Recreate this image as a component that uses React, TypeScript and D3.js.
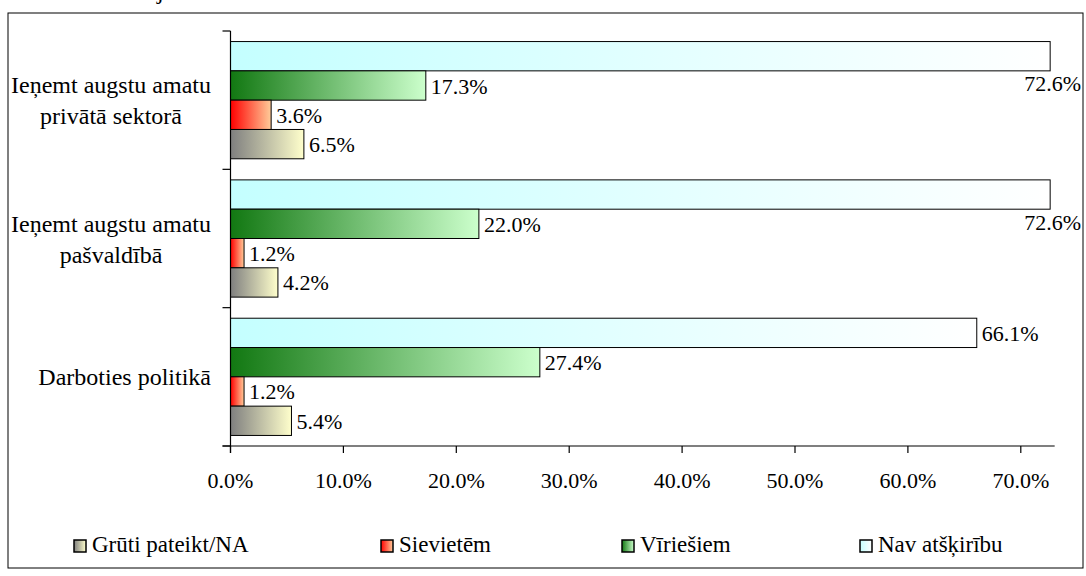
import React from 'react';
import * as d3 from 'd3';

const categories = ["Ieņemt augstu amatu\nprivātā sektorā", "Ieņemt augstu amatu\npašvaldībā", "Darboties politikā"];
const seriesNames = ["Nav atšķirību", "Vīriešiem", "Sievietēm", "Grūti pateikt/NA"];
const navValues = [72.6, 72.6, 66.1];
const virValues = [17.3, 22.0, 27.4];
const sievValues = [3.6, 1.2, 1.2];
const grutiValues = [6.5, 4.2, 5.4];
const xTicks = [0, 10, 20, 30, 40, 50, 60, 70];
const legendOrder = ["Grūti pateikt/NA", "Sievietēm", "Vīriešiem", "Nav atšķirību"];

const seriesValues: Record<string, number[]> = {
  "Nav atšķirību": navValues,
  "Vīriešiem": virValues,
  "Sievietēm": sievValues,
  "Grūti pateikt/NA": grutiValues,
};

const gradients: Record<string, [string, string]> = {
  "Nav atšķirību": ["#c4ffff", "#ffffff"],
  "Vīriešiem": ["#127812", "#ccffcc"],
  "Sievietēm": ["#ff0000", "#ffcc99"],
  "Grūti pateikt/NA": ["#7f7f7f", "#ffffcc"],
};

const FONT = "'Liberation Serif', 'Times New Roman', serif";
const legendSwatchX = [74, 381, 622, 860];

function measure(text: string, size: number): number {
  const c = document.createElement('canvas').getContext('2d');
  if (!c) return text.length * size * 0.45;
  c.font = `${size}px 'Liberation Serif'`;
  return c.measureText(text).width;
}

export default function App() {
  const W = 1086, H = 576;
  const frame = { x: 8, y: 13, w: 1075, h: 555 };
  const x = d3.scaleLinear().domain([0, 73]).range([230.5, 230.5 + 7.3 * 112.9]);
  const y = d3.scaleBand<string>().domain(categories).range([31, 446]).padding(0);
  const inner = d3.scaleBand<string>().domain(seriesNames).range([0, y.bandwidth()]).paddingInner(0).paddingOuter(0.36);
  const axisY = 446;
  const chartRight = frame.x + frame.w;
  const id = (s: string) => 'g' + seriesNames.indexOf(s);
  const numSize = 22;
  const catSize = 24;

  return (
    <svg width={W} height={H} style={{ position: 'absolute', left: 0, top: 0, fontFamily: FONT }}>
      <defs>
        {seriesNames.map((s) => (
          <linearGradient key={s} id={id(s)} x1="0" y1="0" x2="1" y2="0">
            <stop offset="0" stopColor={gradients[s][0]} />
            <stop offset="1" stopColor={gradients[s][1]} />
          </linearGradient>
        ))}
      </defs>
      <rect x={0} y={0} width={W} height={H} fill="#fff" />
      <text x={157} y={-1} fontSize={24} fill="#000">j</text>
      <rect x={frame.x} y={frame.y} width={frame.w} height={frame.h} fill="#fff" stroke="#000" strokeWidth={1} />

      {/* bars */}
      {categories.map((c, ci) =>
        seriesNames.map((s) => {
          const v = seriesValues[s][ci];
          const by = (y(c) ?? 0) + (inner(s) ?? 0);
          const bh = inner.bandwidth();
          const x0 = x(0), x1 = x(v);
          const label = v.toFixed(1) + '%';
          const lw = measure(label, numSize);
          let lx = x1 + 5;
          let ly = by + bh / 2 + 8;
          let anchor: 'start' | 'end' = 'start';
          if (lx + lw > chartRight - 2) {
            lx = chartRight - 2;
            anchor = 'end';
            ly += 27;
          }
          return (
            <g key={c + s}>
              <rect x={x0} y={by} width={x1 - x0} height={bh} fill={`url(#${id(s)})`} stroke="#000" strokeWidth={1} />
              <text x={lx} y={ly} fontSize={numSize} textAnchor={anchor} fill="#000">{label}</text>
            </g>
          );
        })
      )}

      {/* axes */}
      <line x1={x(0)} y1={31} x2={x(0)} y2={axisY + 7} stroke="#000" strokeWidth={1.2} />
      {[...categories.map((c) => y(c) ?? 0), 446].map((t, i) => (
        <line key={'yt' + i} x1={x(0) - 8} y1={t} x2={x(0)} y2={t} stroke="#000" strokeWidth={1.2} />
      ))}
      <line x1={x(0) - 8} y1={axisY} x2={x(73)} y2={axisY} stroke="#000" strokeWidth={1.2} />
      {xTicks.map((t) => (
        <g key={'xt' + t}>
          <line x1={x(t)} y1={axisY} x2={x(t)} y2={axisY + 7} stroke="#000" strokeWidth={1.2} />
          <text x={x(t)} y={488} fontSize={numSize} textAnchor="middle" fill="#000">{t.toFixed(1)}%</text>
        </g>
      ))}

      {/* category labels */}
      {categories.map((c) => {
        const lines = c.split('\n');
        const maxW = Math.max(...lines.map((l) => measure(l, catSize)));
        const cx = 211 - maxW / 2;
        const center = (y(c) ?? 0) + y.bandwidth() / 2;
        const lh = 31;
        const first = center - ((lines.length - 1) * lh) / 2 + 8.5;
        return (
          <text key={'cat' + c} fontSize={catSize} textAnchor="middle" fill="#000">
            {lines.map((l, i) => (
              <tspan key={i} x={cx} y={first + i * lh}>{l}</tspan>
            ))}
          </text>
        );
      })}

      {/* legend */}
      {legendOrder.map((s, i) => (
        <g key={'lg' + s}>
          <rect x={legendSwatchX[i]} y={540} width={12} height={12} fill={`url(#${id(s)})`} stroke="#000" strokeWidth={1.5} />
          <text x={legendSwatchX[i] + 18} y={552} fontSize={23} fill="#000">{s}</text>
        </g>
      ))}
    </svg>
  );
}
